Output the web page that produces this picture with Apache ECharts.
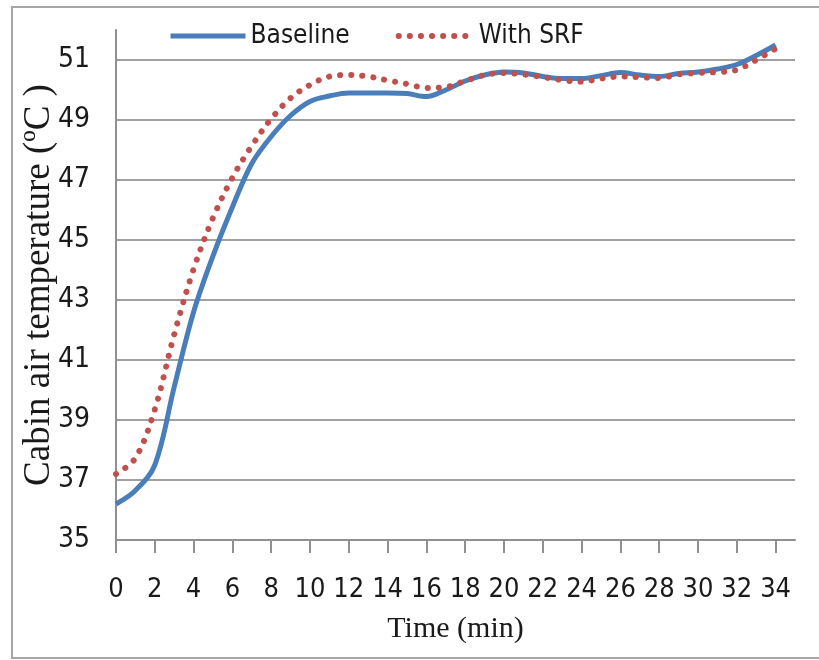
<!DOCTYPE html>
<html>
<head>
<meta charset="utf-8">
<script src="https://cdn.jsdelivr.net/npm/echarts@6/dist/echarts.min.js"></script>
<style>
  html, body { margin: 0; padding: 0; background: #fff; }
  #main { width: 819px; height: 660px; }
</style>
</head>
<body>
<div id="main"></div>
<script>
// 数据
var timeMin = [0, 1, 2, 3, 4, 5, 6, 7, 8, 9, 10, 11, 12, 13, 14, 15, 16, 17,
               18, 19, 20, 21, 22, 23, 24, 25, 26, 27, 28, 29, 30, 31, 32, 33, 34];
var baseline = [36.2, 36.65, 37.5, 40.1, 42.6, 44.47, 46.1, 47.55, 48.45, 49.15, 49.62, 49.8,
                49.9, 49.9, 49.9, 49.88, 49.78, 50.0, 50.3, 50.5, 50.6, 50.57, 50.45, 50.38,
                50.38, 50.48, 50.58, 50.5, 50.45, 50.55, 50.6, 50.7, 50.85, 51.15, 51.5];
var withSRF = [37.2, 37.73, 39.35, 41.85, 44.03, 45.74, 47.08, 48.14, 49.04, 49.73, 50.17, 50.45,
               50.5, 50.45, 50.32, 50.2, 50.07, 50.1, 50.3, 50.5, 50.57, 50.52, 50.43, 50.33,
               50.28, 50.38, 50.45, 50.43, 50.4, 50.52, 50.57, 50.6, 50.67, 51.0, 51.38];
var xTicks = [0, 2, 4, 6, 8, 10, 12, 14, 16, 18, 20, 22, 24, 26, 28, 30, 32, 34];

var narrow = "'Liberation Sans Narrow', 'DejaVu Sans Condensed', sans-serif";
var serif = "'Liberation Serif', 'DejaVu Serif', serif";

var myChart = echarts.init(document.getElementById('main'));

var toPairs = function(ys){
    return ys.map(function(v, i){ return [timeMin[i], v]; });
};

var option = {
    backgroundColor: '#fff',
    animation: false,
    graphic: [{
        type: 'rect',
        shape: { x: 12, y: 7, width: 830, height: 651 },
        style: { fill: 'none', stroke: '#a6a6a6', lineWidth: 2 },
        silent: true
    }],
    legend: {
        left: 163,
        top: 18,
        itemWidth: 75,
        itemHeight: 8,
        itemGap: 46,
        textStyle: { fontFamily: narrow, fontSize: 26, color: '#1a1a1a' },
        data: [
            { name: 'Baseline', itemStyle: { opacity: 0 },
              lineStyle: { width: 5, color: '#4a7ebb' } },
            { name: 'With SRF', itemStyle: { opacity: 0 },
              lineStyle: { width: 6, color: '#c0504d', type: [0.1, 11], cap: 'round' } }
        ]
    },
    grid: { left: 116, right: 24, top: 30, bottom: 120 },
    xAxis: {
        type: 'value',
        min: 0,
        max: 35,
        interval: 2,
        name: 'Time (min)',
        nameLocation: 'middle',
        nameGap: 74,
        nameMoveOverlap: false,
        nameTextStyle: { fontFamily: serif, fontSize: 30, color: '#1a1a1a' },
        axisLine: { lineStyle: { color: '#909090', width: 2 } },
        axisTick: { show: true, length: 13, customValues: xTicks,
                    lineStyle: { color: '#909090', width: 2 } },
        axisLabel: { customValues: xTicks, margin: 36, fontFamily: narrow,
                     fontSize: 27, color: '#1a1a1a' },
        splitLine: { show: false }
    },
    yAxis: {
        type: 'value',
        min: 35,
        max: 52,
        interval: 2,
        name: 'Cabin air temperature (ºC )',
        nameLocation: 'middle',
        nameGap: 58,
        nameMoveOverlap: false,
        nameTextStyle: { fontFamily: serif, fontSize: 37, color: '#1a1a1a' },
        axisLine: { show: true, lineStyle: { color: '#909090', width: 2 } },
        axisTick: { show: false },
        axisLabel: { showMaxLabel: false, margin: 26, fontFamily: narrow,
                     fontSize: 28, color: '#1a1a1a' },
        splitLine: { show: true, showMaxLine: false,
                     lineStyle: { color: '#a0a0a0', width: 2 } }
    },
    series: [{
        name: 'Baseline',
        type: 'line',
        data: toPairs(baseline),
        smooth: 0.35,
        symbol: 'none',
        color: '#4a7ebb',
        lineStyle: { color: '#4a7ebb', width: 5 }
    }, {
        name: 'With SRF',
        type: 'line',
        data: toPairs(withSRF),
        smooth: 0.35,
        symbol: 'none',
        color: '#c0504d',
        lineStyle: { color: '#c0504d', width: 6, type: [0.1, 11], cap: 'round' }
    }]
};

myChart.setOption(option);
</script>
</body>
</html>
